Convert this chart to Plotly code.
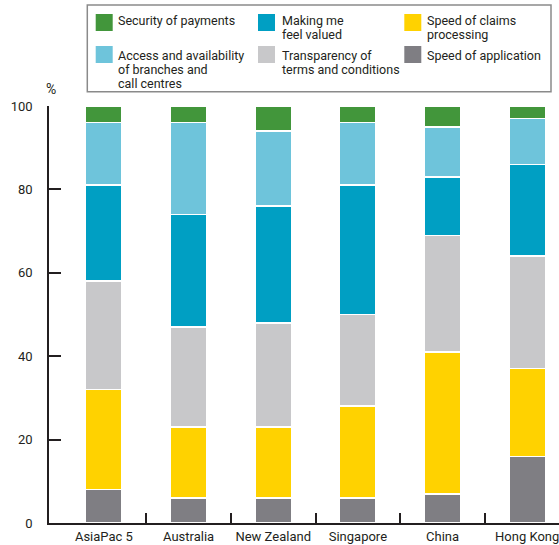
import plotly.graph_objects as go

# Survey shares (%) by market, stacked bottom to top
categories = ["AsiaPac 5", "Australia", "New Zealand", "Singapore", "China", "Hong Kong"]
speed_application = [8, 6, 6, 6, 7, 16]
speed_claims = [24, 17, 17, 22, 34, 21]
transparency = [26, 24, 25, 22, 28, 27]
feel_valued = [23, 27, 28, 31, 14, 22]
access_branches = [15, 22, 18, 15, 12, 11]
security_payments = [4, 4, 6, 4, 5, 3]

y_ticks = [0, 20, 40, 60, 80, 100]

series = [
    ("Speed of application", speed_application, "#7f7e83"),
    ("Speed of claims processing", speed_claims, "#ffd200"),
    ("Transparency of terms and conditions", transparency, "#c8c8ca"),
    ("Making me feel valued", feel_valued, "#009fc3"),
    ("Access and availability of branches and call centres", access_branches, "#6ec4db"),
    ("Security of payments", security_payments, "#42963b"),
]

# Key layout: (label lines, colour, column, row)
legend_items = [
    (["Security of payments"], "#42963b", 0, 0),
    (["Making me", "feel valued"], "#009fc3", 1, 0),
    (["Speed of claims", "processing"], "#ffd200", 2, 0),
    (["Access and availability", "of branches and", "call centres"], "#6ec4db", 0, 1),
    (["Transparency of", "terms and conditions"], "#c8c8ca", 1, 1),
    (["Speed of application"], "#7f7e83", 2, 1),
]

W, H = 559, 545
ML, MR, MT, MB = 49, 0, 106, 22
PW, PH = W - ML - MR, H - MT - MB
FONT = "Roboto"
INK = "#231f20"


def px(x):
    return (x - ML) / PW


def py(y):
    return (H - MB - y) / PH


xs = list(range(len(categories)))
fig = go.Figure()
for name, vals, color in series:
    fig.add_trace(go.Bar(
        x=xs, y=vals, name=name, width=0.43,
        marker=dict(color=color, line=dict(color="white", width=1.5)),
        showlegend=False, hovertemplate="%{y}%<extra>" + name + "</extra>",
    ))

# category labels on an overlaid axis so the tick marks can sit between bars
fig.add_trace(go.Scatter(x=xs, y=[0] * len(xs), xaxis="x2", mode="markers",
                         marker=dict(opacity=0), showlegend=False, hoverinfo="skip"))

xr = [-0.6486, 5.376]
fig.update_layout(
    width=W, height=H,
    margin=dict(l=ML, r=MR, t=MT, b=MB),
    template="none",
    paper_bgcolor="white", plot_bgcolor="white",
    barmode="stack",
    font=dict(family=FONT, size=13, color=INK),
    xaxis=dict(
        range=xr, showgrid=False, zeroline=False, automargin=False,
        showline=True, linecolor=INK, linewidth=1.5,
        tickvals=[i + 0.5 for i in xs[:-1]], ticks="inside", ticklen=10,
        tickwidth=1.5, tickcolor=INK, showticklabels=False,
    ),
    xaxis2=dict(
        range=xr, overlaying="x", anchor="y", side="bottom",
        showgrid=False, zeroline=False, showline=False, automargin=False,
        tickvals=xs, ticktext=categories, ticks="",
        ticklabeloverflow="allow",
        tickfont=dict(family=FONT, size=13, color=INK), ticklabelstandoff=4,
    ),
    yaxis=dict(
        range=[0, 100], showgrid=False, zeroline=False, automargin=False,
        showline=True, linecolor=INK, linewidth=1.5,
        tickvals=y_ticks, ticks="inside", ticklen=12, tickwidth=1.5, tickcolor=INK,
        tickfont=dict(family=FONT, size=13, color=INK), ticklabelstandoff=12,
    ),
)

shapes = []
annotations = []

# key frame
shapes.append(dict(type="rect", xref="paper", yref="paper",
                   x0=px(87.3), x1=px(551), y0=py(91.7), y1=py(5),
                   line=dict(color="#8a8a8a", width=1.5), fillcolor="white", layer="above"))

col_swatch_x = [95.7, 258, 404.3]
col_text_x = [116.7, 281, 426]
row_swatch_y = [14, 46]
row_text_y = [20.5, 55.2]
line_step = 14.2
sw = 17

for lines, color, col, row in legend_items:
    sx, sy = col_swatch_x[col], row_swatch_y[row]
    shapes.append(dict(type="rect", xref="paper", yref="paper",
                       x0=px(sx), x1=px(sx + sw), y0=py(sy + sw), y1=py(sy),
                       line=dict(width=0), fillcolor=color, layer="above"))
    for k, line in enumerate(lines):
        annotations.append(dict(
            xref="paper", yref="paper", x=px(col_text_x[col]),
            y=py(row_text_y[row] + k * line_step),
            xanchor="left", yanchor="middle", showarrow=False, text=line,
            borderpad=0, font=dict(family=FONT, size=12.5, color=INK),
        ))

# unit label above the value axis
annotations.append(dict(xref="paper", yref="paper", x=px(51), y=py(88.5),
                        xanchor="center", yanchor="middle", showarrow=False, text="%",
                        borderpad=0, font=dict(family=FONT, size=14, color=INK)))

fig.update_layout(shapes=shapes, annotations=annotations)
fig.write_html("out.html")
